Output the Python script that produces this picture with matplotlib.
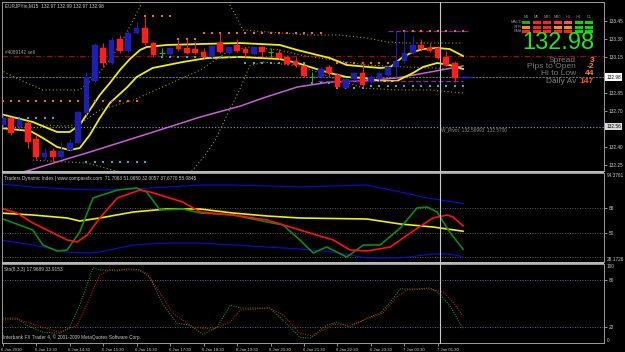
import matplotlib
matplotlib.use("Agg")
import matplotlib.pyplot as plt
from matplotlib.patches import Rectangle
from matplotlib.lines import Line2D

W, H = 625, 352

# ---- EURJPYm M15 bars (index 0 = 6 Jan 12:30) ----
opens = [132.58, 132.64, 132.56, 132.60, 132.46, 132.31, 132.36, 132.31, 132.37, 132.43,
         132.68, 132.95, 133.22, 133.10, 133.30, 133.20, 133.35, 133.39, 133.26, 133.18,
         133.17, 133.24, 133.22, 133.21, 133.19, 133.15, 133.26, 133.18, 133.25, 133.21,
         133.17, 133.23, 133.19, 133.18, 133.15, 133.11, 133.07, 132.98, 132.98, 133.06,
         133.00, 132.89, 132.96, 133.01, 132.94, 132.96, 133.00, 133.06, 133.11, 133.18,
         133.25, 133.22, 133.22, 133.15, 133.10, 132.97]
highs = [132.66, 132.65, 132.63, 132.61, 132.50, 132.39, 132.39, 132.44, 132.46, 132.70,
         133.02, 133.26, 133.26, 133.31, 133.33, 133.36, 133.44, 133.48, 133.27, 133.22,
         133.23, 133.30, 133.30, 133.27, 133.22, 133.25, 133.35, 133.24, 133.30, 133.23,
         133.24, 133.24, 133.22, 133.21, 133.16, 133.15, 133.08, 133.02, 133.06, 133.08,
         133.01, 132.97, 133.02, 133.11, 133.00, 133.02, 133.07, 133.36, 133.36, 133.32,
         133.30, 133.26, 133.24, 133.20, 133.11, 132.99]
lows = [132.56, 132.50, 132.55, 132.39, 132.30, 132.29, 132.26, 132.30, 132.36, 132.42,
        132.66, 132.94, 133.06, 133.09, 133.18, 133.19, 133.34, 133.25, 133.15, 133.15,
        133.16, 133.20, 133.17, 133.17, 133.14, 133.14, 133.18, 133.17, 133.19, 133.15,
        133.16, 133.15, 133.15, 133.13, 133.08, 133.06, 132.98, 132.93, 132.97, 132.98,
        132.89, 132.88, 132.95, 132.90, 132.93, 132.95, 132.99, 132.98, 133.10, 133.17,
        133.20, 133.19, 133.13, 133.07, 132.94, 132.97]
closes = [132.64, 132.51, 132.62, 132.44, 132.31, 132.35, 132.31, 132.36, 132.43, 132.69,
          132.98, 133.25, 133.10, 133.29, 133.20, 133.35, 133.39, 133.26, 133.16, 133.18,
          133.22, 133.21, 133.18, 133.18, 133.15, 133.24, 133.19, 133.23, 133.20, 133.18,
          133.23, 133.19, 133.19, 133.14, 133.09, 133.08, 132.99, 132.98, 133.05, 133.01,
          132.90, 132.96, 133.01, 132.91, 132.98, 133.01, 133.06, 133.11, 133.18, 133.25,
          133.21, 133.20, 133.14, 133.08, 132.97, 132.98]

# ---- price-panel lines (bar position, price) ----
ma_up_x = [-0.3, 3.6, 6.5, 8.0, 9.2, 10.4, 11.6, 12.8, 14.0, 15.2, 16.4, 17.2, 19.6, 23.6,
           28.4, 33.1, 35.2, 37.1, 39.1, 41.1, 45.1, 46.3, 47.8, 49.0, 50.2, 51.9, 53.4, 55.0]
ma_up_y = [132.672, 132.605, 132.522, 132.522, 132.58, 132.705, 132.83, 132.93, 133.038,
           133.13, 133.205, 133.23, 133.247, 133.255, 133.263, 133.247, 133.205, 133.172,
           133.138, 133.08, 133.055, 133.063, 133.147, 133.188, 133.213, 133.222, 133.213, 133.155]
ma_lo_x = [-0.3, 3.3, 4.8, 6.5, 8.0, 9.2, 10.4, 11.6, 12.8, 14.9, 16.0, 17.9, 21.5, 24.4,
           28.4, 33.1, 35.2, 37.1, 39.1, 41.1, 43.1, 45.1, 47.1, 49.0, 50.2, 51.9, 53.4, 55.0]
ma_lo_y = [132.555, 132.53, 132.472, 132.397, 132.372, 132.388, 132.497, 132.638, 132.763,
           132.897, 132.98, 133.055, 133.105, 133.138, 133.147, 133.13, 133.097, 133.055,
           133.013, 132.98, 132.972, 132.947, 132.947, 133.013, 133.063, 133.097, 133.08, 133.047]
ema_x = [-0.3, 3.3, 10.4, 17.6, 23.6, 28.4, 31.1, 35.2, 39.1, 43.1, 47.1, 51.1, 55.0]
ema_y = [132.138, 132.205, 132.355, 132.513, 132.647, 132.738, 132.805, 132.897, 132.938,
         132.947, 132.972, 133.022, 133.072]
bb_up_x = [-0.3, 2.1, 4.8, 9.2, 11.3, 12.8, 14.0, 15.6, 16.8, 17.6, 25.4, 26.8, 27.8, 28.7,
           31.6, 36.7, 40.3, 43.5, 45.9, 48.3, 55.0]
bb_up_y = [133.038, 132.955, 132.872, 132.872, 132.997, 133.122, 133.247, 133.455, 133.622,
           133.705, 133.705, 133.622, 133.497, 133.372, 133.355, 133.33, 133.33, 133.305,
           133.272, 133.263, 133.263]
bb_mid_x = [4.8, 7.7, 9.2, 11.6, 15.6, 19.6, 23.6, 26.8, 29.5, 33.1, 35.5, 39.5, 43.5, 48.3, 55.0]
bb_mid_y = [132.58, 132.572, 132.588, 132.705, 132.788, 132.913, 133.038, 133.188, 133.23,
            133.205, 133.163, 133.122, 133.08, 133.063, 133.047]
bb_lo_x = [3.6, 10.1, 14.0, 17.6, 21.8, 22.7, 24.2, 25.4, 26.8, 28.4, 29.5, 31.1, 35.5,
           39.5, 43.1, 47.1, 51.1, 55.0]
bb_lo_y = [132.288, 132.263, 132.188, 132.138, 132.138, 132.205, 132.33, 132.455, 132.663,
           132.888, 133.072, 133.105, 133.072, 132.972, 132.888, 132.872, 132.872, 132.847]

# resistance / support dot runs: (first bar, last bar, price)
res_dots = [(0, 16, 132.78), (17, 20, 133.49), (21, 23, 133.30), (24, 38, 133.35),
            (40, 47, 133.10), (48, 55, 133.36)]
sup_dots = [(1, 6, 132.64), (10, 17, 132.27), (19, 28, 133.15), (29, 36, 133.10),
            (37, 39, 132.93), (40, 43, 132.89), (44, 55, 132.905)]
order_price = 133.155
bid_price = 132.98
pivot_price = 132.567
level_hi = 133.363
level_lo = 132.947

# ---- Traders Dynamic Index ----
tdi_ub_x = [-0.3, 3.6, 7.7, 11.6, 15.6, 19.6, 23.6, 27.5, 31.6, 35.5, 39.5, 43.5, 47.5, 50.7, 52.3, 55.0]
tdi_ub_y = [86.2, 83.96, 82.47, 81.73, 82.47, 83.96, 85.45, 85.45, 84.71, 83.96, 84.71, 85.45,
            80.24, 75.78, 74.29, 71.71]
tdi_lb_x = [-0.3, 3.6, 7.7, 10.1, 11.6, 15.6, 19.6, 23.6, 27.5, 31.6, 35.5, 39.5, 43.5, 47.5,
            51.4, 53.4, 55.0]
tdi_lb_y = [44.54, 40.82, 35.61, 34.87, 35.61, 40.82, 42.31, 42.31, 40.82, 39.33, 37.84,
            35.61, 31.15, 31.15, 34.12, 34.12, 32.01]
tdi_mb_x = [-0.3, 3.6, 7.7, 9.2, 11.6, 15.6, 19.6, 23.6, 27.5, 31.6, 35.5, 43.5, 47.5, 51.4, 55.0]
tdi_mb_y = [64.62, 63.13, 60.90, 58.67, 60.90, 65.36, 67.60, 67.60, 64.62, 62.39, 60.90,
            60.16, 56.44, 54.21, 51.07]
tdi_sig_x = [-0.3, 1.7, 3.6, 7.7, 8.9, 10.1, 11.6, 13.7, 16.4, 17.6, 21.5, 23.6, 27.5, 31.6,
             35.5, 37.9, 39.5, 41.5, 43.5, 46.3, 48.7, 51.4, 53.1, 53.8, 55.0]
tdi_sig_y = [68.34, 64.62, 57.18, 44.54, 43.05, 48.26, 60.90, 75.78, 81.73, 80.24, 72.80,
             65.36, 63.13, 59.41, 51.98, 47.51, 44.54, 37.10, 36.35, 39.33, 49.74, 60.90,
             63.13, 61.65, 55.08]
tdi_rsi_x = [-0.3, 3.6, 4.8, 6.5, 7.7, 9.2, 10.8, 13.7, 16.0, 17.2, 18.8, 21.5, 23.6, 25.6,
             27.5, 31.6, 33.5, 35.5, 37.1, 38.7, 41.1, 43.1, 45.1, 47.5, 49.5, 50.7, 51.9, 53.4, 55.0]
tdi_rsi_y = [60.90, 51.98, 40.82, 36.35, 37.10, 50.49, 75.78, 81.73, 83.22, 80.24, 66.85,
             67.60, 64.62, 63.88, 63.13, 57.93, 55.70, 44.54, 34.87, 39.33, 31.89, 40.82,
             40.82, 53.46, 68.34, 69.08, 65.36, 50.49, 37.68]

# ---- Stochastic ----
sto_k_x = [-0.3, 1.7, 2.9, 4.8, 6.8, 8.0, 9.2, 10.8, 11.6, 13.7, 14.9, 16.4, 17.6, 19.2,
           20.8, 22.4, 23.9, 25.6, 27.2, 28.4, 31.9, 33.5, 35.5, 36.7, 38.7, 39.9, 41.5,
           43.5, 45.1, 46.3, 47.5, 49.5, 51.1, 51.9, 53.4, 55.0]
sto_k_y = [31.5, 31.5, 22.5, 13.6, 12.4, 20.0, 48.0, 95.2, 92.6, 91.3, 93.9, 92.6, 82.4,
           48.0, 25.2, 22.5, 11.1, 20.0, 48.0, 44.2, 44.2, 28.9, 7.3, 6.0, 22.5, 26.4, 20.0,
           31.5, 37.8, 51.8, 68.4, 68.4, 69.7, 64.6, 48.0, 17.97]
sto_d_x = [-0.3, 1.7, 4.8, 6.8, 8.9, 10.4, 11.6, 12.8, 15.6, 17.2, 18.4, 20.3, 22.7, 25.1,
           27.2, 28.4, 31.9, 33.5, 35.5, 37.1, 39.5, 41.5, 45.4, 47.1, 48.3, 50.7, 52.6, 53.8, 55.0]
sto_d_y = [28.9, 30.2, 20.0, 13.6, 22.5, 56.9, 86.2, 92.6, 92.6, 88.8, 69.7, 37.8, 20.0,
           17.5, 26.4, 41.7, 44.2, 35.3, 12.4, 8.5, 23.8, 22.5, 37.8, 58.2, 67.1, 68.4, 64.6,
           51.8, 33.92]

price_ticks = [133.45, 133.30, 133.15, 132.85, 132.70, 132.40, 132.25]
time_labels = ["6 Jan 2010", "6 Jan 13:30", "6 Jan 14:30", "6 Jan 15:30", "6 Jan 16:30",
               "6 Jan 17:30", "6 Jan 18:30", "6 Jan 19:30", "6 Jan 20:30", "6 Jan 21:30",
               "6 Jan 22:30", "6 Jan 23:30", "7 Jan 00:30", "7 Jan 01:30"]
time_label_bars = [0, 4, 8, 12, 16, 20, 24, 28, 32, 36, 40, 44, 48, 52]

tf_names = ["M1", "M5", "M15", "M30", "H1", "H4", "D1"]
sig_rows = ["MACD", "STR", "EMA"]
sig_colors = [["#10b010", "#ff2020", "#ff2020", "#ff3030", "#ff5050", "#00e000", "#00e000"],
              ["#ff8c00", "#ff2020", "#ff2020", "#ff8c00", "#ff8c00", "#00e000", "#00e000"],
              ["#ff2020", "#ff2020", "#ff2020", "#ff2020", "#ff2020", "#00e000", "#00e000"]]
info_names = ["Spread", "Pips to Open", "Hi to Low", "Daily Av"]
info_vals = ["3", "-2", "44", "147"]

GRAY = "#c8c8c8"
SMALL = 3.4
FONT = "Liberation Sans"

fig = plt.figure(figsize=(6.25, 3.52), dpi=100, facecolor="black")


def px_axes(x0, y0, x1, y1):
    ax = fig.add_axes([x0 / W, 1 - y1 / H, (x1 - x0) / W, (y1 - y0) / H])
    ax.set_facecolor("black")
    for s in ax.spines.values():
        s.set_color("#9a9a9a")
        s.set_linewidth(0.7)
    ax.set_xlim((2 - 2.7) / 8.37, (604 - 2.7) / 8.37)
    ax.set_xticks([])
    ax.yaxis.tick_right()
    ax.tick_params(axis="y", colors=GRAY, labelsize=SMALL, length=2, width=0.5, pad=1.5)
    for t in ax.get_yticklabels():
        t.set_fontfamily(FONT)
    return ax


def ftext(x, y, s, **kw):
    kw.setdefault("fontfamily", FONT)
    fig.text(x / W, 1 - y / H, s, **kw)


ax = px_axes(2, 2, 604, 171)
tdi = px_axes(2, 173, 604, 262)
sto = px_axes(2, 264, 604, 343)

# ---------- price panel ----------
ax.set_ylim(132.197, 133.605)
ax.axhline(order_price, color="#b40000", lw=0.8, ls=(0, (5, 2, 1, 2)))
ax.axhline(bid_price, color="#6e6e6e", lw=0.8, ls=(0, (2, 1)))
ax.axhline(pivot_price, color="#7090b0", lw=0.9, ls=(0, (1, 1.5)))

dot = dict(lw=0.8, ls=(0, (1, 2.2)), color="#9a9a00")
ax.plot(bb_up_x, bb_up_y, **dot)
ax.plot(bb_mid_x, bb_mid_y, **dot)
ax.plot(bb_lo_x, bb_lo_y, **dot)
ax.plot(ema_x, ema_y, color="#c860d8", lw=1.1)
ax.plot(ma_up_x, ma_up_y, color="#f0f000", lw=1.3)
ax.plot(ma_lo_x, ma_lo_y, color="#f0f000", lw=1.3)

ax.plot([46.0, 55.6], [level_hi, level_hi], color="#8a1ca0", lw=0.9, ls=(0, (4, 2)))
ax.plot([37.7, 55.0], [level_lo, level_lo], color="#8a1ca0", lw=0.9, ls=(0, (4, 2)))

for a, b, p in res_dots:
    ax.scatter(range(a, b + 1), [p] * (b - a + 1), s=2.2, marker="s", color="#ff5a3c", lw=0, zorder=4)
for a, b, p in sup_dots:
    ax.scatter(range(a, b + 1), [p] * (b - a + 1), s=2.2, marker="s", color="#1cb4e6", lw=0, zorder=4)

for i, (o, h, l, c) in enumerate(zip(opens, highs, lows, closes)):
    if abs(o - c) < 0.005:
        ax.vlines(i, l, h, color="#20b020", lw=0.8, zorder=5)
        ax.hlines(o, i - 0.34, i + 0.34, color="#20b020", lw=0.9, zorder=5)
        continue
    col = "#1e1eb4" if c > o else "#ff1e1e"
    ax.vlines(i, l, h, color=col, lw=0.7, zorder=5)
    ax.add_patch(Rectangle((i - 0.34, min(o, c)), 0.68, abs(c - o), facecolor=col,
                           edgecolor=col, lw=0.3, zorder=6))
ax.hlines(bid_price, 54.9, 56.0, color="#2020ff", lw=0.9, zorder=6)

ax.set_yticks(price_ticks)
ax.set_yticklabels([f"{p:.2f}" for p in price_ticks])
for val, lab, bg in [(bid_price, "132.98", "white"), (pivot_price, "132.56", "#d8d8d8")]:
    ax.text(1.004, val, lab, transform=ax.get_yaxis_transform(), fontsize=SMALL, color="black",
            va="center", ha="left", fontfamily=FONT,
            bbox=dict(boxstyle="square,pad=0.25", fc=bg, ec="none"))

ftext(5, 6, "EURJPYm,M15  132.97 132.99 132.97 132.98", fontsize=SMALL, color=GRAY, va="center")
ftext(5, 53, "#4089142 sell", fontsize=SMALL, color="#a0a0a0", va="center")
ftext(441, 130, "W_Pivot  132.56993  132.5700", fontsize=SMALL, color="#8a8a8a", va="center")

# signal grid
cell_x = [526 + 10.5 * k for k in range(7)]
for k, name in enumerate(tf_names):
    ftext(cell_x[k], 16.5, name, fontsize=2.8, color="#909090", ha="center", va="center")
for r, row in enumerate(sig_rows):
    yy = 21 + 4.6 * r
    ftext(522, yy + 1.3, row, fontsize=2.8, color="#909090", ha="right", va="center")
    for k in range(7):
        fig.patches.append(Rectangle(((cell_x[k] - 4) / W, 1 - (yy + 3) / H), 8 / W, 3 / H,
                                     transform=fig.transFigure, facecolor=sig_colors[r][k],
                                     edgecolor="none"))

ftext(594, 43, "132.98", fontsize=17, color="#22e622", ha="right", va="center")
info_y = [60, 66.7, 73.3, 81.5]
for k in range(4):
    ftext(576, info_y[k], info_names[k], fontsize=6, color="#7c7c7c", ha="right", va="center")
    ftext(594, info_y[k], info_vals[k], fontsize=6, color="#ff5a00" if k == 3 else "#ff8c00",
          ha="right", va="center", fontweight="bold")

# ---------- TDI ----------
tdi.set_ylim(28.1726, 94.3761)
for lv in (68, 50, 32):
    tdi.axhline(lv, color="#707070", lw=0.6, ls=(0, (1, 2)))
tdi.plot(tdi_ub_x, tdi_ub_y, color="#0a0ac8", lw=0.9)
tdi.plot(tdi_lb_x, tdi_lb_y, color="#0a0ac8", lw=0.9)
tdi.plot(tdi_mb_x, tdi_mb_y, color="#f0f000", lw=1.2)
tdi.plot(tdi_rsi_x, tdi_rsi_y, color="#0c8c0c", lw=1.2)
tdi.plot(tdi_sig_x, tdi_sig_y, color="#ff1010", lw=1.2)
tdi.set_yticks([68, 50])
tdi.set_yticklabels(["68", "50"])
tdi.text(1.004, 94.3761, "94.3761", transform=tdi.get_yaxis_transform(), fontsize=SMALL,
         color=GRAY, va="top", fontfamily=FONT)
tdi.text(1.004, 28.1726, "28.1726", transform=tdi.get_yaxis_transform(), fontsize=SMALL,
         color=GRAY, va="bottom", fontfamily=FONT)
ftext(4, 178, "Traders Dynamic Index | www.compassfx.com  71.7063 51.0650 32.0057 37.6770 55.0845",
      fontsize=SMALL, color=GRAY, va="center")

# ---------- Stochastic ----------
sto.set_ylim(0, 100)
for lv in (80, 20):
    sto.axhline(lv, color="#8080b0", lw=0.6, ls=(0, (1, 2)))
sto.plot(sto_k_x, sto_k_y, color="#14a014", lw=0.75, ls=(0, (1, 1.3)))
sto.plot(sto_d_x, sto_d_y, color="#e01010", lw=0.75, ls=(0, (1, 1.3)))
sto.set_yticks([80, 20])
sto.set_yticklabels(["80", "20"])
sto.text(1.004, 100, "100", transform=sto.get_yaxis_transform(), fontsize=SMALL,
         color=GRAY, va="top", fontfamily=FONT)
sto.text(1.004, 0, "0", transform=sto.get_yaxis_transform(), fontsize=SMALL,
         color=GRAY, va="bottom", fontfamily=FONT)
ftext(4, 269, "Sto(8,3,3) 17.9689 33.9153", fontsize=SMALL, color=GRAY, va="center")
ftext(3, 337, "Interbank FX Trader 4, \u00a9 2001-2009 MetaQuotes Software Corp.",
      fontsize=SMALL, color=GRAY, va="center")

sto.set_xticks(time_label_bars)
sto.tick_params(axis="x", colors=GRAY, length=2, width=0.5, labelbottom=False)
for b, lab in zip(time_label_bars, time_labels):
    sto.text(b - 0.15, -0.06, lab, transform=sto.get_xaxis_transform(), fontsize=3.1,
             color=GRAY, ha="left", va="top", fontfamily=FONT)

# separators and period line
for y0 in (171, 262):
    fig.patches.append(Rectangle((2 / W, 1 - (y0 + 2) / H), 602 / W, 2 / H,
                                 transform=fig.transFigure, facecolor="#b8b8b8", edgecolor="none"))
fig.lines.append(Line2D([439.5 / W, 439.5 / W], [1 - 2 / H, 1 - 343 / H],
                        transform=fig.transFigure, color="#c8c8c8", lw=0.8))

fig.savefig("out.png", dpi=100, facecolor="black")
